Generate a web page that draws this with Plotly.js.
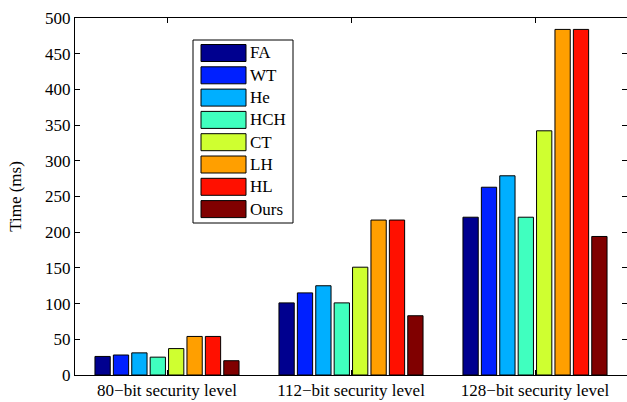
<!DOCTYPE html>
<html>
<head>
<meta charset="utf-8">
<script src="https://cdn.plot.ly/plotly-3.0.1.min.js"></script>
<style>html,body{margin:0;padding:0;background:#fff;font-family:'Liberation Serif',serif}#chart{width:627px;height:402px}#chart svg text{font-family:'Liberation Serif','Times New Roman',serif !important}</style>
</head>
<body>
<div id="chart"></div>
<script>
const categories = ["80\u2212bit security level", "112\u2212bit security level", "128\u2212bit security level"];
const seriesNames = ["FA", "WT", "He", "HCH", "CT", "LH", "HL", "Ours"];
const seriesColors = ["#00008F", "#0020FF", "#00AFFF", "#40FFBF", "#CFFF30", "#FF9F00", "#FF1000", "#800000"];
const FA   = [26, 101, 221];
const WT   = [28, 115, 263];
const He   = [31, 125, 279];
const HCH  = [25, 101, 221];
const CT   = [37, 151, 342];
const LH   = [54, 217, 484];
const HL   = [54, 217, 484];
const Ours = [20, 83, 194];
const seriesValues = [FA, WT, He, HCH, CT, LH, HL, Ours];
const yTicks = [0, 50, 100, 150, 200, 250, 300, 350, 400, 450, 500];

const W = 627, H = 402;
const M = {l: 75, r: 0, t: 18, b: 27};
const pw = W - M.l - M.r, ph = H - M.t - M.b;
const px = x => (x - M.l) / pw;
const py = y => (H - M.b - y) / ph;

const serifFamily = "Liberation Serif";
const mkFont = () => ({family: serifFamily, size: 17, color: "#000000"});

const traces = seriesNames.map((n, i) => ({
  type: "bar",
  name: n,
  x: [1, 2, 3],
  y: seriesValues[i],
  marker: {color: seriesColors[i], line: {color: "#000", width: 1}},
  showlegend: false,
  hoverinfo: "y"
}));

// Manual legend (MATLAB style) built from series names & colours
const shapes = [];
const annotations = [];
const lgLeft = 193, lgRight = 293, lgTop = 40, lgBottom = 223;
shapes.push({type: "rect", xref: "paper", yref: "paper",
  x0: px(lgLeft), x1: px(lgRight), y0: py(lgBottom), y1: py(lgTop),
  line: {color: "#000", width: 1}, fillcolor: "#fff", layer: "above"});
seriesNames.forEach((n, i) => {
  const cy = 53 + i * 22.3;
  shapes.push({type: "rect", xref: "paper", yref: "paper",
    x0: px(201), x1: px(246), y0: py(cy + 8.5), y1: py(cy - 8.5),
    line: {color: "#000", width: 1}, fillcolor: seriesColors[i], layer: "above"});
  annotations.push({xref: "paper", yref: "paper", x: px(248), y: py(cy),
    xanchor: "left", yanchor: "middle", text: n, showarrow: false, font: mkFont()});
});

const layout = {
  width: W, height: H,
  margin: M,
  paper_bgcolor: "#fff", plot_bgcolor: "#fff",
  font: mkFont(),
  barmode: "group",
  bargap: 0.2,
  bargroupgap: 0.17,
  showlegend: false,
  xaxis: {
    range: [0.5, 3.5],
    tickvals: [1, 2, 3],
    ticktext: categories,
    ticks: "inside", ticklen: 5, tickcolor: "#000", tickwidth: 1,
    showline: true, linecolor: "#000", linewidth: 1, mirror: "ticks",
    showgrid: false, zeroline: false,
    tickfont: mkFont()
  },
  yaxis: {
    range: [0, 500],
    tickvals: yTicks,
    ticks: "inside", ticklen: 5, tickcolor: "#000", tickwidth: 1,
    showline: true, linecolor: "#000", linewidth: 1, mirror: "ticks",
    showgrid: false, zeroline: false,
    tickfont: mkFont(),
    title: {text: "Time (ms)", font: mkFont(), standoff: 19}
  },
  shapes: shapes,
  annotations: annotations
};

Plotly.newPlot("chart", traces, layout, {displayModeBar: false, staticPlot: true}).then(gd => {
  gd.querySelectorAll("svg text").forEach(t => {
    t.style.fontFamily = "'Liberation Serif', 'Times New Roman', serif";
  });
  document.body.setAttribute("data-ready", "1");
});
</script>
</body>
</html>
